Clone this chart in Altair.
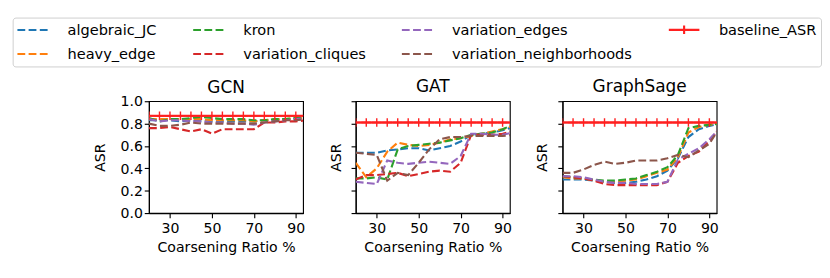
import altair as alt
import pandas as pd

ratios = [20, 25, 30, 35, 40, 45, 50, 55, 60, 65, 70, 75, 80, 85, 90, 95]
models = ["GCN", "GAT", "GraphSage"]
methods = ["algebraic_JC", "heavy_edge", "kron", "variation_cliques",
           "variation_edges", "variation_neighborhoods"]

gcn_algebraic_JC = [0.83, 0.83, 0.83, 0.82, 0.83, 0.82, 0.82, 0.82, 0.82, 0.82, 0.82, 0.83, 0.83, 0.84, 0.84, 0.85]
gcn_heavy_edge = [0.84, 0.84, 0.84, 0.84, 0.84, 0.84, 0.83, 0.83, 0.83, 0.83, 0.82, 0.83, 0.84, 0.84, 0.85, 0.85]
gcn_kron = [0.85, 0.82, 0.84, 0.84, 0.85, 0.86, 0.85, 0.84, 0.84, 0.84, 0.83, 0.83, 0.84, 0.84, 0.85, 0.85]
gcn_variation_cliques = [0.76, 0.76, 0.77, 0.75, 0.73, 0.75, 0.71, 0.75, 0.75, 0.75, 0.75, 0.81, 0.81, 0.82, 0.82, 0.83]
gcn_variation_edges = [0.84, 0.82, 0.83, 0.83, 0.82, 0.82, 0.81, 0.81, 0.80, 0.80, 0.79, 0.81, 0.82, 0.83, 0.84, 0.85]
gcn_variation_neighborhoods = [0.80, 0.78, 0.78, 0.79, 0.81, 0.80, 0.80, 0.80, 0.80, 0.80, 0.80, 0.81, 0.82, 0.83, 0.83, 0.84]

gat_algebraic_JC = [0.54, 0.54, 0.54, 0.56, 0.57, 0.58, 0.58, 0.56, 0.58, 0.60, 0.64, 0.70, 0.71, 0.72, 0.74, 0.77]
gat_heavy_edge = [0.45, 0.32, 0.40, 0.55, 0.63, 0.61, 0.60, 0.61, 0.63, 0.66, 0.67, 0.69, 0.71, 0.73, 0.75, 0.78]
gat_kron = [0.31, 0.31, 0.32, 0.30, 0.57, 0.60, 0.61, 0.62, 0.63, 0.65, 0.67, 0.70, 0.71, 0.72, 0.75, 0.79]
gat_variation_cliques = [0.30, 0.34, 0.34, 0.35, 0.36, 0.33, 0.35, 0.37, 0.38, 0.37, 0.45, 0.70, 0.70, 0.70, 0.71, 0.73]
gat_variation_edges = [0.28, 0.27, 0.26, 0.47, 0.45, 0.44, 0.45, 0.46, 0.45, 0.44, 0.51, 0.71, 0.71, 0.70, 0.70, 0.72]
gat_variation_neighborhoods = [0.54, 0.53, 0.52, 0.29, 0.36, 0.34, 0.45, 0.57, 0.66, 0.68, 0.68, 0.69, 0.69, 0.69, 0.69, 0.70]

sage_algebraic_JC = [0.30, 0.30, 0.30, 0.29, 0.28, 0.27, 0.27, 0.28, 0.30, 0.33, 0.38, 0.49, 0.68, 0.75, 0.78, 0.80]
sage_heavy_edge = [0.32, 0.31, 0.31, 0.29, 0.28, 0.28, 0.29, 0.30, 0.33, 0.36, 0.39, 0.50, 0.72, 0.77, 0.79, 0.80]
sage_kron = [0.33, 0.32, 0.31, 0.30, 0.29, 0.29, 0.30, 0.31, 0.34, 0.37, 0.41, 0.52, 0.76, 0.78, 0.79, 0.80]
sage_variation_cliques = [0.33, 0.32, 0.31, 0.29, 0.26, 0.25, 0.25, 0.25, 0.25, 0.25, 0.28, 0.45, 0.51, 0.55, 0.65, 0.75]
sage_variation_edges = [0.33, 0.33, 0.32, 0.30, 0.28, 0.27, 0.27, 0.26, 0.26, 0.26, 0.28, 0.48, 0.53, 0.58, 0.66, 0.76]
sage_variation_neighborhoods = [0.36, 0.36, 0.39, 0.43, 0.46, 0.44, 0.45, 0.47, 0.47, 0.47, 0.49, 0.52, 0.50, 0.56, 0.62, 0.77]

baseline_asr = {"GCN": 0.87, "GAT": 0.81, "GraphSage": 0.81}

y_ticks = [0.0, 0.2, 0.4, 0.6, 0.8, 1.0]
x_ticks = [30, 50, 70, 90]

series_data = {
    "GCN": [gcn_algebraic_JC, gcn_heavy_edge, gcn_kron, gcn_variation_cliques,
            gcn_variation_edges, gcn_variation_neighborhoods],
    "GAT": [gat_algebraic_JC, gat_heavy_edge, gat_kron, gat_variation_cliques,
            gat_variation_edges, gat_variation_neighborhoods],
    "GraphSage": [sage_algebraic_JC, sage_heavy_edge, sage_kron, sage_variation_cliques,
                  sage_variation_edges, sage_variation_neighborhoods],
}

rows = []
for m in models:
    for name, vals in zip(methods, series_data[m]):
        for x, v in zip(ratios, vals):
            rows.append({"model": m, "series": name, "ratio": x, "asr": v})
    for x in ratios:
        rows.append({"model": m, "series": "baseline_ASR", "ratio": x, "asr": baseline_asr[m]})
df = pd.DataFrame(rows)

legend_order = methods + ["baseline_ASR"]
palette = {
    "algebraic_JC": "#1f77b4", "heavy_edge": "#ff7f0e", "kron": "#2ca02c",
    "variation_cliques": "#d62728", "variation_edges": "#9467bd",
    "variation_neighborhoods": "#8c564b", "baseline_ASR": "#ff2020",
}
dash = [8.3, 3.6]
dash_path = "M-2.1,0H2.1"
cross_path = "M-2.1,0H2.1M0,-0.58V0.58"
color_scale = alt.Scale(domain=legend_order, range=[palette[s] for s in legend_order])
dash_scale = alt.Scale(domain=legend_order,
                       range=[[1, 0] if s == "baseline_ASR" else dash for s in legend_order])
shape_scale = alt.Scale(domain=legend_order,
                        range=[cross_path if s == "baseline_ASR" else dash_path for s in legend_order])

FONT = "DejaVu Sans"
legend = alt.Legend(
    orient="none", legendX=-145, legendY=-89, columns=4, title=None,
    symbolSize=240, symbolStrokeWidth=2.25, symbolOffset=8.3,
    labelFontSize=15.5, labelFont=FONT, labelColor="black", labelOffset=28,
    labelLimit=400, columnPadding=33, rowPadding=7.8, padding=4,
    strokeColor="#cccccc", fillColor="white", cornerRadius=3,
)


def panel(m):
    base = alt.Chart(df).transform_filter(alt.datum.model == m)
    x = alt.X("ratio:Q", scale=alt.Scale(domain=[20, 93.5], nice=False, zero=False),
              axis=alt.Axis(values=x_ticks, title="Coarsening Ratio %"))
    y = alt.Y("asr:Q", scale=alt.Scale(domain=[0, 1], nice=False),
              axis=alt.Axis(values=y_ticks, format=".1f", title="ASR",
                            labels=(m == "GCN"), labelPadding=2,
                            titlePadding=(13 if m == "GCN" else 8)))
    color = alt.Color("series:N", scale=color_scale, legend=legend)
    sdash = alt.StrokeDash("series:N", scale=dash_scale, legend=legend)
    lines = base.transform_filter(alt.datum.series != "baseline_ASR").mark_line(
        strokeWidth=2.25, clip=True
    ).encode(x=x, y=y, color=color, strokeDash=sdash)
    bl = base.transform_filter(alt.datum.series == "baseline_ASR")
    bline = bl.mark_line(strokeWidth=2.25, clip=True).encode(
        x=x, y=y, color=color, strokeDash=sdash)
    bpts = bl.mark_point(size=240, filled=False, strokeWidth=1.5, opacity=1, clip=True).encode(
        x=x, y=y, color=color,
        shape=alt.Shape("series:N", scale=shape_scale, legend=legend))
    return alt.layer(lines, bline, bpts).properties(
        width=164, height=119,
        title=alt.TitleParams(m, fontSize=18, font=FONT, fontWeight="normal",
                              color="black", offset=(-2 if m == "GCN" else 5),
                              anchor="middle", frame="group"),
    )


chart = alt.hconcat(*[panel(m) for m in models], spacing=23).properties(
    padding={"left": 4, "top": 1, "right": 0, "bottom": 2}
).configure_view(
    stroke="black", strokeWidth=1.2
).configure_axis(
    grid=False, domainColor="black", domainWidth=1.2, tickColor="black",
    tickWidth=1.2, tickSize=5, labelFontSize=15, titleFontSize=15,
    labelFont=FONT, titleFont=FONT, titleFontWeight="normal",
    labelColor="black", titleColor="black", labelPadding=4,
    labelFlush=False, labelOverlap=False, zindex=1,
).configure_axisX(titlePadding=5)

chart.save("out.html", embed_options={"renderer": "svg", "actions": False})
